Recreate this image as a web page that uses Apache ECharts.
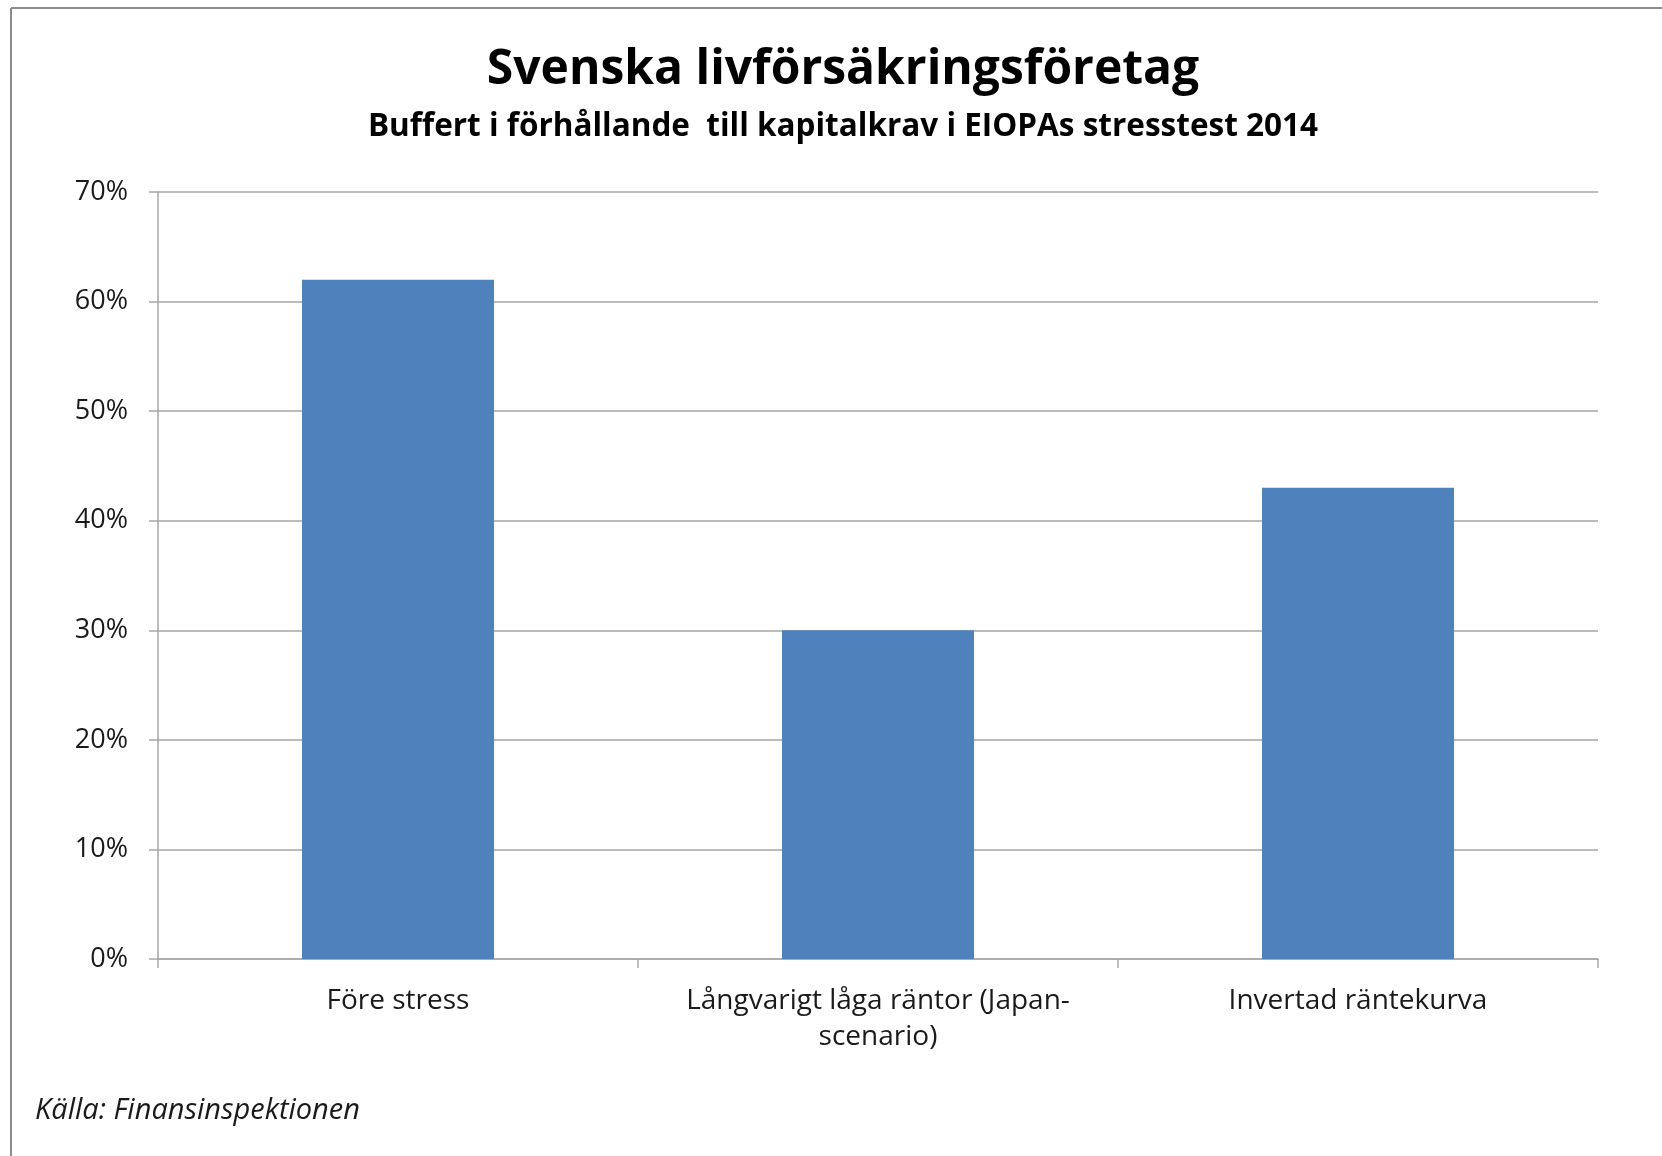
<!DOCTYPE html>
<html>
<head>
<meta charset="utf-8">
<title>Svenska livförsäkringsföretag</title>
<script src="https://cdn.jsdelivr.net/npm/echarts@6/dist/echarts.min.js"></script>
<style>
	html, body { margin: 0; padding: 0; background: #fff; }
	#main { width: 1662px; height: 1156px; }
</style>
</head>
<body>
<div id="main"></div>
<script>
/*数据*/
var categories = ['Före stress', 'Långvarigt låga räntor (Japan-\nscenario)', 'Invertad räntekurva'];
var buffert = [62, 30, 43];
var yTicks = [0, 10, 20, 30, 40, 50, 60, 70];

var titleText = 'Svenska livförsäkringsföretag';
var subText = 'Buffert i förhållande  till kapitalkrav i EIOPAs stresstest 2014';
var sourceText = 'Källa: Finansinspektionen';

(function(){
	var chart = echarts.init(document.getElementById('main'));
	var font = '"Open Sans", "DejaVu Sans", sans-serif';
	var grey = '#a6a6a6';
	var option = {
		backgroundColor : '#fff',
		textStyle : { fontFamily : font },
		animation : false,
		grid : {
			left : 158,
			right : 64,
			top : 192,
			bottom : 197,
			containLabel : false
		},
		xAxis : {
			type : 'category',
			data : categories,
			axisLine : { lineStyle : { color : grey, width : 1.5 } },
			axisTick : { show : true, length : 9, lineStyle : { color : grey, width : 1.5 } },
			axisLabel : {
				interval : 0,
				margin : 24,
				color : '#1a1a1a',
				fontSize : 28,
				lineHeight : 36,
				fontFamily : font
			}
		},
		yAxis : {
			type : 'value',
			min : yTicks[0],
			max : yTicks[yTicks.length - 1],
			interval : 10,
			axisLine : { show : true, lineStyle : { color : grey, width : 1.5 } },
			axisTick : { show : true, length : 9, lineStyle : { color : grey, width : 1.5 } },
			splitLine : { lineStyle : { color : grey, width : 1.5 } },
			axisLabel : {
				formatter : '{value}%',
				margin : 30,
				color : '#1a1a1a',
				fontSize : 27,
				fontFamily : font
			}
		},
		series : [ {
			name : 'Buffert',
			type : 'bar',
			data : buffert,
			barWidth : '40%',
			itemStyle : { color : '#4f81bd' }
		} ],
		graphic : [
			// 边框 (只有上边和左边)
			{ type : 'line', shape : { x1 : 11, y1 : 8, x2 : 1662, y2 : 8 }, style : { stroke : '#8c8c8c', lineWidth : 2 } },
			{ type : 'line', shape : { x1 : 11, y1 : 8, x2 : 11, y2 : 1156 }, style : { stroke : '#8c8c8c', lineWidth : 2 } },
			{
				type : 'text', x : 843, y : 70,
				style : { text : titleText, font : 'bold 48px ' + font, fill : '#000', align : 'center', verticalAlign : 'middle' }
			},
			{
				type : 'text', x : 843, y : 127,
				style : { text : subText, font : 'bold 31.5px ' + font, fill : '#000', align : 'center', verticalAlign : 'middle' }
			},
			{
				type : 'text', x : 35, y : 1111,
				style : { text : sourceText, font : 'italic 29px ' + font, fill : '#1a1a1a', align : 'left', verticalAlign : 'middle' }
			}
		]
	};
	chart.setOption(option);
})();
</script>
</body>
</html>
